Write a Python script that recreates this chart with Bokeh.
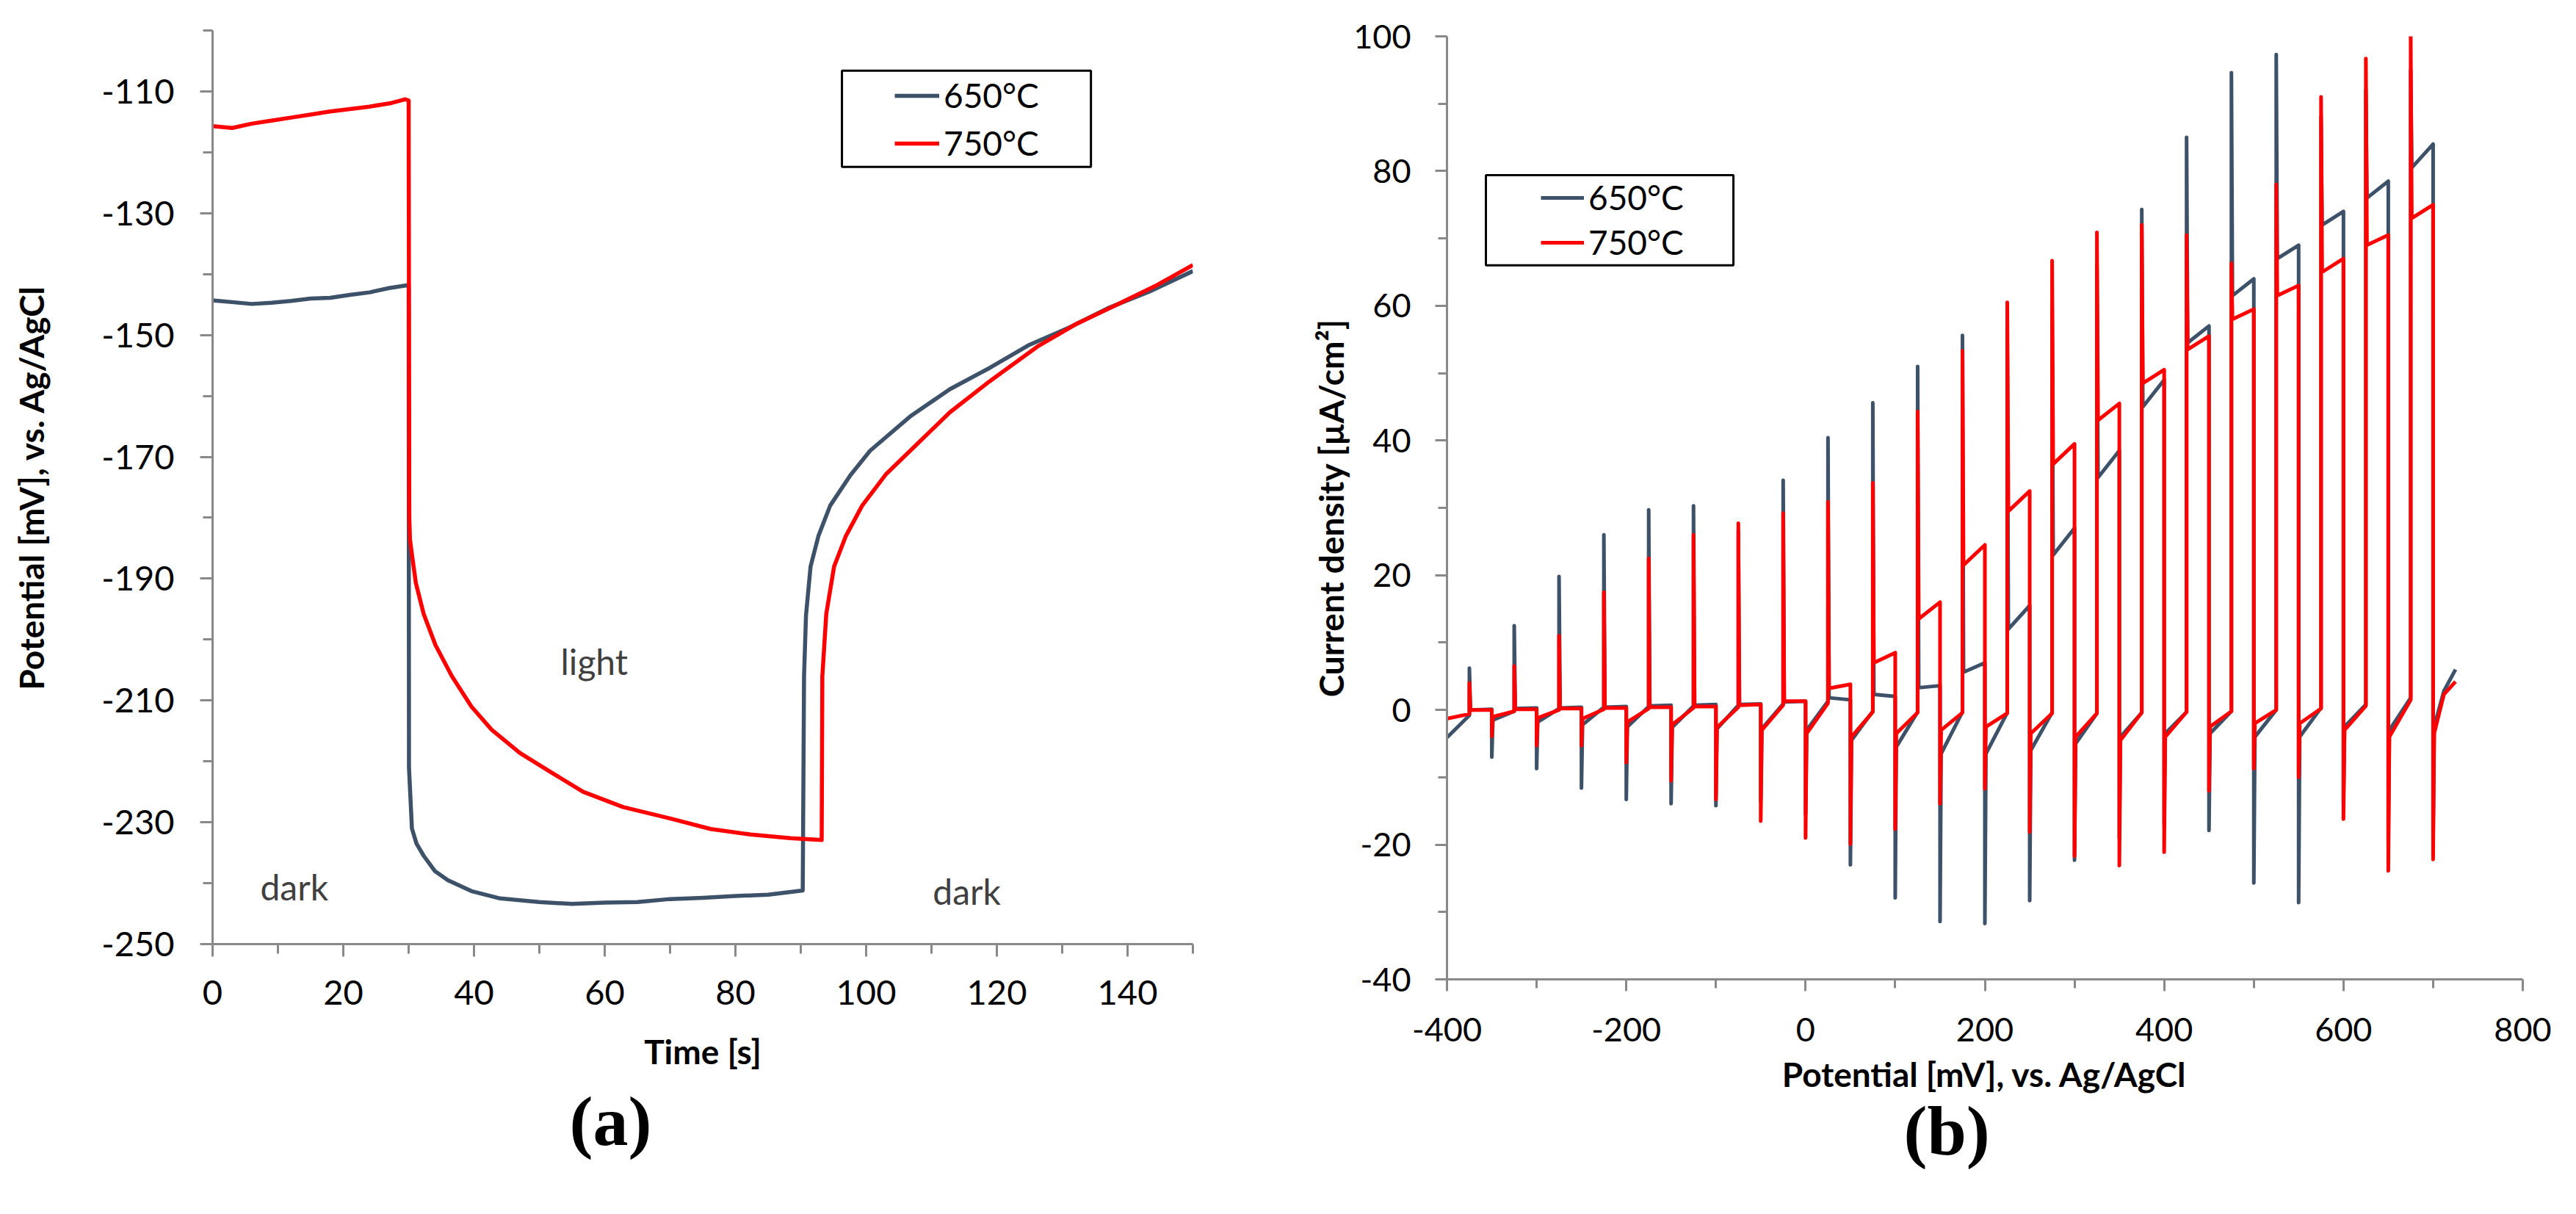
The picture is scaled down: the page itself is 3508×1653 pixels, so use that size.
from bokeh.plotting import figure
from bokeh.layouts import row, column
from bokeh.models import (Range1d, FixedTicker, Legend, LegendItem,
                          BoxAnnotation, Label, Title, Spacer)
from bokeh.embed import file_html
from bokeh.resources import INLINE

BLUE = "#3D5269"
RED = "#FF0000"
AXIS_GREY = "#898989"

# (a) open circuit potential vs time, dark/light/dark
time_650 = [0, 3, 6, 9, 12, 15, 18, 21, 24, 27, 29.9, 30.0, 30.05, 30.5, 31.2,
            32.3, 34, 36, 39.6, 44, 50, 55, 60, 65, 70, 75, 80, 85, 90.3, 90.5,
            90.8, 91.5, 92.7, 94.5, 97.6, 100.6, 106.7, 112.8, 118.9, 125, 131,
            137, 143.3, 150]
pot_650 = [-144.3, -144.6, -144.9, -144.7, -144.4, -144.0, -143.9, -143.4, -143.0,
           -142.3, -141.8, -141.8, -221, -231, -233.5, -235.5, -238, -239.5, -241.3,
           -242.5, -243.1, -243.4, -243.2, -243.1, -242.6, -242.4, -242.1, -241.9,
           -241.2, -206, -196, -188, -183, -178, -173, -169, -163.4, -158.9, -155.4,
           -151.6, -148.8, -145.6, -142.9, -139.5]

time_750 = [0, 3, 6, 9, 12, 15, 18, 21, 24, 27.4, 29.5, 30.0, 30.1, 30.2, 30.5,
            31.1, 32.3, 34.1, 36.6, 39.6, 42.7, 47, 51.8, 56.7, 62.8, 70.1, 76.2,
            82.3, 88.4, 93.2, 93.3, 93.9, 95.1, 96.9, 99.4, 103, 107.9, 112.8, 118.9,
            126.2, 132.3, 138.4, 144.5, 150]
pot_750 = [-115.7, -116.0, -115.3, -114.8, -114.3, -113.8, -113.3, -112.9, -112.5,
           -111.9, -111.3, -111.5, -180, -183.5, -186, -190.7, -195.8, -200.9, -206,
           -211, -214.8, -218.6, -221.8, -225, -227.5, -229.4, -231.1, -232, -232.6,
           -232.9, -206, -195.8, -188, -183, -178, -172.9, -167.8, -162.7, -157.6,
           -151.9, -148.1, -145, -141.8, -138.5]

# (b) chopped-light potential scan, one light pulse per 50 mV
light_on = [-375, -325, -275, -225, -175, -125, -75, -25, 25, 75, 125, 175, 225,
            275, 325, 375, 425, 475, 525, 575, 625, 675]
light_off = [-350, -300, -250, -200, -150, -100, -50, 0, 50, 100, 150, 200, 250,
             300, 350, 400, 450, 500, 550, 600, 650, 700]
end_pot = [712, 725]

start_650 = -4.1
dark_650 = [-0.8, -0.2, 0.2, 0.4, 0.5, 0.6, 0.7, 0.9, 1.3, -0.2, -0.3, -0.3, -0.4,
            -0.4, -0.5, -0.4, -0.3, -0.2, 0.0, 0.3, 0.8, 1.8]
up_650 = [6.2, 12.5, 19.8, 26.0, 29.7, 30.3, 26.5, 34.1, 40.4, 45.6, 51.0, 55.6,
          56.0, 60.0, 66.0, 74.3, 85.0, 94.6, 97.3, 88.0, 92.0, 95.0]
plat_start_650 = [0.0, 0.2, 0.3, 0.4, 0.6, 0.7, 0.8, 1.2, 1.8, 2.3, 3.3, 5.6, 12.0,
                  23.0, 34.5, 45.0, 54.5, 61.5, 67.0, 72.0, 76.0, 80.5]
plat_end_650 = [0.1, 0.3, 0.4, 0.5, 0.7, 0.8, 0.9, 1.3, 1.5, 2.0, 3.6, 7.0, 15.5,
                27.0, 38.5, 49.0, 57.0, 64.0, 69.0, 74.0, 78.5, 84.0]
down_650 = [-7.0, -8.7, -11.6, -13.3, -13.9, -14.2, -13.5, -15.5, -23.0, -27.9, -31.4,
            -31.7, -28.3, -22.3, -19.0, -17.0, -17.9, -25.7, -28.6, -14.0, -20.0, -19.0]
tail_650 = [-1.5, -1.8, -2.2, -2.5, -2.6, -2.8, -2.8, -3.0, -4.5, -5.5, -6.5, -6.5,
            -6.0, -5.0, -4.0, -3.5, -3.5, -4.0, -4.0, -2.5, -3.0, -2.5]
end_650 = [2.8, 6.0]

start_750 = -1.3
dark_750 = [-0.6, -0.2, 0.0, 0.1, 0.2, 0.3, 0.4, 0.7, 1.0, -0.3, -0.4, -0.4, -0.5,
            -0.5, -0.5, -0.4, -0.3, -0.2, 0.0, 0.2, 0.6, 1.5]
up_750 = [4.0, 6.5, 11.0, 17.5, 22.5, 26.0, 27.7, 29.2, 30.9, 33.7, 44.3, 53.3, 60.5,
          66.7, 70.9, 72.0, 70.5, 66.3, 78.0, 91.0, 96.7, 100.0]
plat_start_750 = [0.0, 0.1, 0.2, 0.3, 0.4, 0.5, 0.7, 1.3, 3.2, 7.0, 13.5, 21.5, 29.5,
                  36.5, 43.0, 48.5, 53.5, 58.0, 61.5, 65.0, 69.0, 73.0]
plat_end_750 = [0.0, 0.1, 0.2, 0.3, 0.4, 0.5, 0.8, 1.3, 3.8, 8.5, 16.0, 24.5, 32.5,
                39.5, 45.5, 50.5, 55.5, 59.5, 63.0, 67.0, 70.5, 75.0]
down_750 = [-3.9, -5.3, -5.3, -7.8, -10.5, -13.3, -16.5, -19.0, -19.9, -17.7, -13.9,
            -11.7, -18.1, -21.7, -23.1, -21.1, -12.0, -8.7, -10.0, -16.2, -23.9, -22.2]
tail_750 = [-1.0, -1.2, -1.3, -1.8, -2.2, -2.6, -3.0, -3.5, -4.0, -3.5, -3.0, -2.5,
            -3.5, -4.0, -4.5, -4.0, -2.5, -2.0, -2.0, -3.0, -4.0, -3.5]
end_750 = [2.3, 4.2]


def build_scan(start, dark, up, p0, p1, down, tail, end):
    # dark level -> spike on light-on -> plateau -> spike on light-off -> recovery
    xs, ys = [-400], [start]
    for i in range(len(light_on)):
        xs += [light_on[i], light_on[i], light_on[i] + 1.2,
               light_off[i], light_off[i], light_off[i] + 1.2]
        ys += [dark[i], up[i], p0[i], p1[i], down[i], tail[i]]
    return xs + end_pot, ys + end


def style_axes(p, tick_px, tick_len):
    for ax in p.axis:
        ax.axis_line_color = AXIS_GREY
        ax.axis_line_width = 3
        ax.major_tick_line_color = AXIS_GREY
        ax.major_tick_line_width = 3
        ax.minor_tick_line_color = AXIS_GREY
        ax.minor_tick_line_width = 3
        ax.major_tick_in = 0
        ax.minor_tick_in = 0
        ax.major_tick_out = tick_len
        ax.minor_tick_out = tick_len - 4
        ax.major_label_text_font = "Lato"
        ax.major_label_text_font_size = tick_px
        ax.major_label_text_color = "black"
        ax.axis_label_text_font = "Lato"
        ax.axis_label_text_font_style = "bold"
        ax.axis_label_text_font_size = "46px"
        ax.axis_label_text_color = "black"
    p.grid.visible = False
    p.outline_line_color = None


def add_legend(p, renderers, loc, glyph_w, spacing):
    legend = Legend(items=[LegendItem(label="650°C", renderers=[renderers[0]]),
                           LegendItem(label="750°C", renderers=[renderers[1]])],
                    location=loc, padding=0, margin=0, spacing=spacing,
                    border_line_alpha=0, background_fill_alpha=0,
                    glyph_width=glyph_w, glyph_height=20, label_standoff=6,
                    label_text_font="Lato", label_text_font_size="46px",
                    label_text_color="black")
    p.add_layout(legend)


# ---- panel (a)
pa = figure(frame_width=1335, frame_height=1244, min_border_left=289,
            min_border_right=68, min_border_top=41, min_border_bottom=330,
            x_range=Range1d(0, 150), y_range=Range1d(-250, -100),
            x_axis_label="Time [s]", y_axis_label="Potential [mV], vs. Ag/AgCl",
            output_backend="svg", toolbar_location=None)
ra1 = pa.line(time_650, pot_650, line_color=BLUE, line_width=5.5, line_join="round")
ra2 = pa.line(time_750, pot_750, line_color=RED, line_width=5.5, line_join="round")

ticks_a = list(range(-250, -109, 20))
pa.yaxis.ticker = FixedTicker(ticks=ticks_a, minor_ticks=list(range(-240, -99, 20)))
pa.yaxis.major_label_overrides = {v: str(v) for v in ticks_a}
pa.xaxis.ticker = FixedTicker(ticks=list(range(0, 141, 20)),
                              minor_ticks=list(range(10, 151, 20)))
style_axes(pa, "47px", 17)
pa.xaxis.major_label_standoff = 32
pa.xaxis.axis_label_standoff = 33
pa.yaxis.major_label_standoff = 35
pa.yaxis.axis_label_standoff = 65

for tx, ty, txt in [(12.5, -240.6, "dark"), (58.4, -203.6, "light"), (115.4, -241.3, "dark")]:
    pa.add_layout(Label(x=tx, y=ty, text=txt, text_align="center", text_baseline="middle",
                        text_font="Lato", text_font_size="48px", text_color="#404040"))

pa.add_layout(BoxAnnotation(left=96.3, right=134.4, top=-106.6, bottom=-122.4,
                            fill_alpha=0, line_color="black", line_alpha=1,
                            line_width=3))
add_legend(pa, [ra1, ra2], (929, 1063), 61, 10)
pa.add_layout(Title(text="(a)", align="left", offset=486, standoff=19,
                    text_font="Liberation Serif", text_font_style="bold",
                    text_font_size="96px", text_color="black"), "below")

# ---- panel (b)
x650, y650 = build_scan(start_650, dark_650, up_650, plat_start_650, plat_end_650,
                        down_650, tail_650, end_650)
x750, y750 = build_scan(start_750, dark_750, up_750, plat_start_750, plat_end_750,
                        down_750, tail_750, end_750)

pb = figure(frame_width=1465, frame_height=1284, min_border_left=278,
            min_border_right=57, min_border_top=41, min_border_bottom=260,
            x_range=Range1d(-400, 800), y_range=Range1d(-40, 100),
            x_axis_label="Potential [mV], vs. Ag/AgCl",
            y_axis_label="Current density [µA/cm²]",
            output_backend="svg", toolbar_location=None)
rb1 = pb.line(x650, y650, line_color=BLUE, line_width=5, line_join="round")
rb2 = pb.line(x750, y750, line_color=RED, line_width=5, line_join="round")

ticks_bx = list(range(-400, 801, 200))
pb.xaxis.ticker = FixedTicker(ticks=ticks_bx, minor_ticks=list(range(-300, 701, 200)))
pb.xaxis.major_label_overrides = {v: str(v) for v in ticks_bx}
ticks_by = list(range(-40, 101, 20))
pb.yaxis.ticker = FixedTicker(ticks=ticks_by, minor_ticks=list(range(-30, 91, 20)))
pb.yaxis.major_label_overrides = {v: str(v) for v in ticks_by}
style_axes(pb, "45px", 16)
pb.xaxis.major_label_standoff = 36
pb.xaxis.axis_label_standoff = 14
pb.yaxis.major_label_standoff = 33
pb.yaxis.axis_label_standoff = 0

pb.add_layout(BoxAnnotation(left=-356.6, right=-80.5, top=79.4, bottom=66.0,
                            fill_alpha=0, line_color="black", line_alpha=1,
                            line_width=3))
add_legend(pb, [rb1, rb2], (128, 976), 59, 6)
pb.add_layout(Title(text="(b)", align="left", offset=622, standoff=-18,
                    text_font="Liberation Serif", text_font_style="bold",
                    text_font_size="96px", text_color="black"), "below")

# panel (b) sits 8 px lower than panel (a)
layout = row(pa, column(Spacer(width=1800, height=8), pb))
open("out.html", "w").write(file_html(layout, INLINE))
